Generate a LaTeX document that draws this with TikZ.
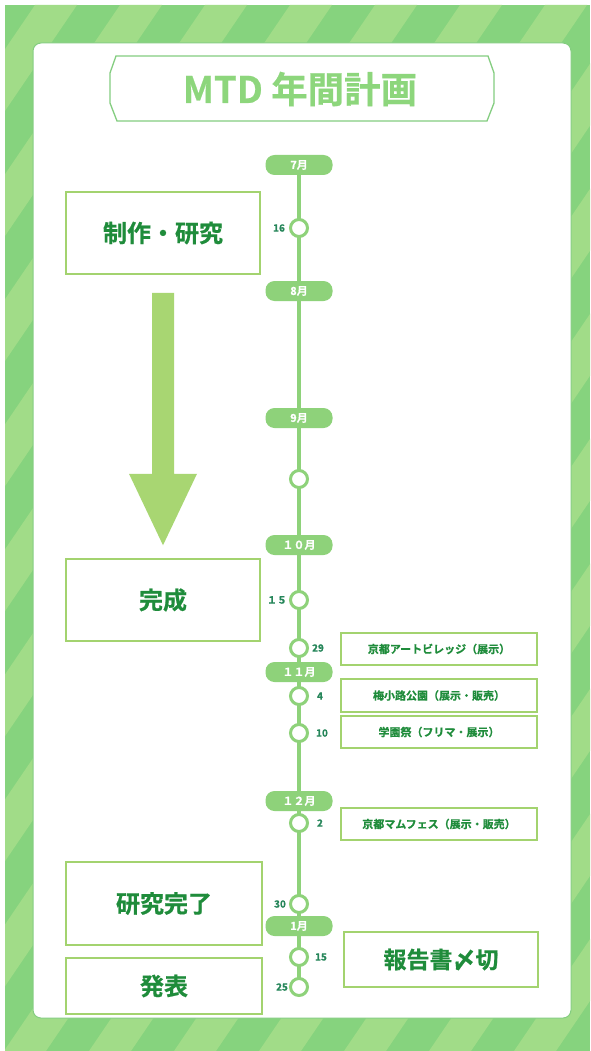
\documentclass[tikz,border=0pt]{standalone}
\usepackage{fontspec}
\setmainfont{Noto Sans CJK JP}
\newfontfamily\jpblack{Noto Sans CJK JP}[UprightFont={* Bold}, FakeBold=0.6]
\usetikzlibrary{calc}
\pgfdeclarelayer{bg}
\pgfdeclarelayer{lines}
\pgfsetlayers{bg,lines,main}
\definecolor{stripeD}{HTML}{86D37E}
\definecolor{stripeL}{HTML}{A1DC88}
\definecolor{cardline}{HTML}{84CD80}
\definecolor{titlegreen}{HTML}{8DD67C}
\definecolor{tlgreen}{HTML}{8ED27A}
\definecolor{boxline}{HTML}{A3D36F}
\definecolor{textdark}{HTML}{1F8C3B}
\definecolor{numdark}{HTML}{26865A}
\definecolor{arrowgreen}{HTML}{A8D672}
\begin{document}
\begin{tikzpicture}[x=1pt,y=-1pt,
  month/.style={fill=tlgreen, rounded corners=9pt, minimum width=67pt, minimum height=20pt, inner sep=0pt, text=white, font=\jpblack\fontsize{11}{11}\selectfont},
  dot/.style={circle, draw=tlgreen, fill=white, line width=3pt, minimum size=17pt, inner sep=0pt},
  lbox/.style={draw=boxline, line width=1.5pt, inner sep=0pt, text=textdark, font=\jpblack\fontsize{24}{24}\selectfont},
  rbox/.style={draw=boxline, line width=1.2pt, inner sep=0pt, text=textdark, font=\jpblack\fontsize{11}{11}\selectfont},
  num/.style={text=numdark, inner sep=0pt, font=\jpblack\fontsize{10}{10}\selectfont}]
\useasboundingbox (0,0) rectangle (590,1051);
\begin{pgfonlayer}{bg}
  \begin{scope}
    \clip (5,5) rectangle (590,1051);
    \fill[stripeD] (5,5) rectangle (590,1051);
    \foreach \k in {-3,...,13} {
      \pgfmathsetmacro\xa{205+85*\k}
      \fill[stripeL] (\xa,5) -- ++(42,0) -- ++(-711,1046) -- ++(-42,0) -- cycle;
    }
  \end{scope}
  \draw[cardline, fill=white, rounded corners=8pt, line width=1pt] (33,43) rectangle (571,1018);
\end{pgfonlayer}

% title
\draw[cardline, line width=1.3pt] (116,56) -- (488,56) -- (494,73) -- (494,103) -- (487,121) -- (117,121) -- (110,103) -- (110,73) -- cycle;
\node[text=titlegreen, inner sep=0pt, font=\jpblack\fontsize{36.5}{36.5}\selectfont] (title) at (300,89) {MTD 年間計画};

% months
\node[month] (m7)  at (299,165) {7月};
\node[month] (m8)  at (299,291) {8月};
\node[month] (m9)  at (299,418) {9月};
\node[month] (m10) at (299,545) {１０月};
\node[month] (m11) at (299,672) {１１月};
\node[month] (m12) at (299,801) {１２月};
\node[month] (m1)  at (299,926) {1月};

% days
\node[dot] (c16) at (299,228) {};
\node[dot] (cx)  at (299,479) {};
\node[dot] (c15) at (299,600) {};
\node[dot] (c29) at (299,648) {};
\node[dot] (c4)  at (299,696) {};
\node[dot] (c10) at (299,733) {};
\node[dot] (c2)  at (299,823) {};
\node[dot] (c30) at (299,904) {};
\node[dot] (c15b) at (299,957) {};
\node[dot] (c25) at (299,987) {};

\begin{pgfonlayer}{lines}
  \draw[tlgreen, line width=4.5pt] (m7.center) -- (c25.center);
\end{pgfonlayer}

% day labels
\node[num] (l16) at (279,228) {16};
\node[num] (l15) at (277,600) {１５};
\node[num] (l29) at (318,648) {29};
\node[num] (l4)  at (320,696) {4};
\node[num] (l10) at (322,733) {10};
\node[num] (l2)  at (320,823) {2};
\node[num] (l30) at (280,904) {30};
\node[num] (l15b) at (321,957) {15};
\node[num] (l25) at (282,987) {25};

% left boxes
\node[lbox, minimum width=194pt, minimum height=82pt] (s1) at (163,233) {制作・研究};
\node[lbox, minimum width=194pt, minimum height=82pt] (s2) at (163,600) {完成};
\node[lbox, minimum width=196pt, minimum height=83pt] (s3) at (164,903.5) {研究完了};
\node[lbox, minimum width=196pt, minimum height=56pt] (s4) at (164,986) {発表};

% big arrow
\fill[arrowgreen] ($(s1.south)+(-11,18)$) -- ($(s1.south)+(11,18)$) -- ($(s1.south)+(11,199)$)
  -- ($(s1.south)+(34,199)$) -- ($(s2.north)+(0,-13)$) -- ($(s1.south)+(-34,199)$)
  -- ($(s1.south)+(-11,199)$) -- cycle;

% right boxes
\node[rbox, minimum width=196pt, minimum height=32pt] (e1) at (439,649) {京都アートビレッジ（展示）};
\node[rbox, minimum width=196pt, minimum height=33pt] (e2) at (439,695.5) {梅小路公園（展示・販売）};
\node[rbox, minimum width=196pt, minimum height=32pt] (e3) at (439,732) {学園祭（フリマ・展示）};
\node[rbox, minimum width=196pt, minimum height=32pt] (e4) at (439,824) {京都マムフェス（展示・販売）};
\node[lbox, minimum width=194pt, minimum height=55pt, font=\jpblack\fontsize{23}{23}\selectfont] (e5) at (441,959.5) {報告書〆切};
\end{tikzpicture}
\end{document}
